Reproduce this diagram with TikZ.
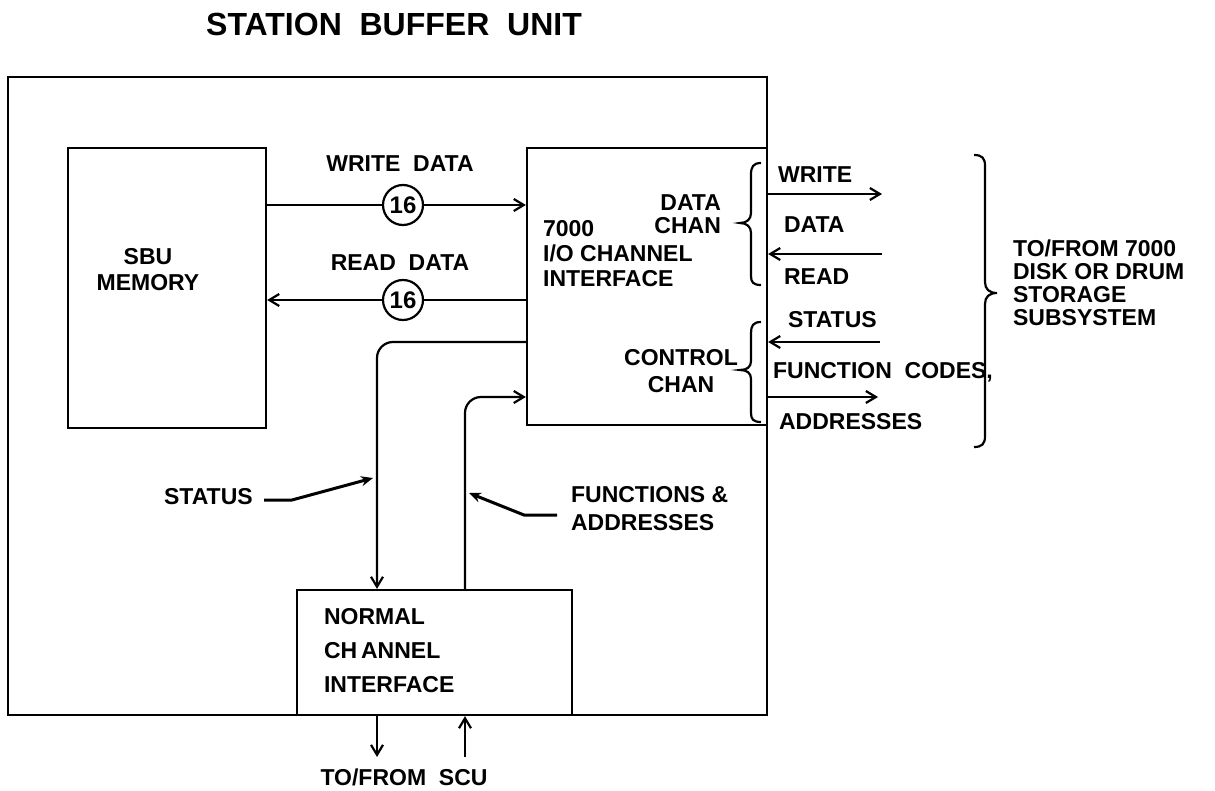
\documentclass[tikz,border=0pt]{standalone}
\usepackage{fontspec}
\setmainfont{Liberation Sans}
\usetikzlibrary{arrows.meta}
\begin{document}
\begin{tikzpicture}[x=0.5pt,y=-0.5pt,line width=1.1pt,
  lbl/.style={font=\fontsize{11.5}{13}\selectfont\bfseries,inner sep=0pt},
  blk/.style={draw,line width=1.1pt,inner sep=0pt},
  arr/.style={-{Straight Barb[length=5pt,width=6pt]}},
  num/.style={draw,circle,minimum size=20pt,inner sep=0pt,font=\fontsize{12}{12}\selectfont\bfseries},
  ptr/.style={-{Stealth[length=6pt,width=5pt]},line width=1.5pt}]
\useasboundingbox (0,0) rectangle (1215,791);
% title
\node[inner sep=0pt,font=\fontsize{16}{18}\selectfont\bfseries] (title) at (394,24) {STATION\ \ BUFFER\ \ UNIT};
% boxes
\node[blk,minimum width=379.5pt,minimum height=319pt] (sbu0) at (387.5,396) {};
\node[blk,minimum width=99pt,minimum height=140pt] (sbu) at (167,288) {};
\node[lbl,align=center,font=\fontsize{11.5}{13}\selectfont\bfseries] (sbut) at (148,270) {SBU\\MEMORY};
\node[blk,minimum width=120pt,minimum height=138.5pt] (chan) at (647,286.5) {};
\node[lbl,align=left,anchor=west,font=\fontsize{11.5}{12.5}\selectfont\bfseries] (chant) at (542,254) {7000\\I/O CHANNEL\\INTERFACE};
\node[blk,minimum width=137.5pt,minimum height=62.5pt] (nci) at (434.5,652.5) {};
\node[lbl,align=left,anchor=west,font=\fontsize{11.5}{17}\selectfont\bfseries] (ncit) at (323,651) {NORMAL\\CH\,ANNEL\\INTERFACE};
% write/read data
\node[num] (c1) at (403,205) {16};
\node[num] (c2) at (403,300) {16};
\node[lbl] (wd) at (400,164) {WRITE\ \ DATA};
\node[lbl] (rd) at (400,263) {READ\ \ DATA};
\draw (sbu.east |- c1) -- (c1.west);
\draw[arr] (c1.east) -- (chan.west |- c1);
\draw (chan.west |- c2) -- (c2.east);
\draw[arr] (c2.west) -- (sbu.east |- c2);
% status / functions paths
\coordinate (stA) at (527,342);
\coordinate (stB) at (377,342);
\coordinate (fnA) at (465,397);
\draw[arr,rounded corners=8pt] (stA) -- (stB) -- (stB |- nci.north);
\draw[arr,rounded corners=8pt] (fnA |- nci.north) -- (fnA) -- (chan.west |- fnA);
% pointer labels
\node[lbl,anchor=west] (stl) at (163,497) {STATUS};
\coordinate (stp) at (373,478);
\draw[ptr] (264,500) -- (292,500) -- (stp);
\node[lbl,anchor=west,align=left,font=\fontsize{11.5}{14}\selectfont\bfseries] (fnl) at (570,509) {FUNCTIONS \&\\ADDRESSES};
\coordinate (fnp) at (469,493);
\draw[ptr] (557,515) -- (524,515) -- (fnp);
% to/from SCU
\coordinate (scuL) at (377,757);
\coordinate (scuR) at (465,757);
\draw[arr] (scuL |- nci.south) -- (scuL);
\draw[arr] (scuR) -- (scuR |- nci.south);
\node[lbl] (scu) at (404,777) {TO/FROM\ \ SCU};
% channel braces and labels
\node[lbl,align=right,anchor=east,font=\fontsize{11.5}{11.5}\selectfont\bfseries] (dch) at (722,214) {DATA\\CHAN};
\node[lbl,align=center,font=\fontsize{11.5}{13.5}\selectfont\bfseries] (cch) at (681,371) {CONTROL\\CHAN};
\draw (761,163) .. controls (753,163) and (751,167) .. (751,175) -- (751,213) .. controls (751,219) and (747,223) .. (740,223) .. controls (747,223) and (751,227) .. (751,233) -- (751,276) .. controls (751,282) and (753,285) .. (761,285);
\draw (761,322) .. controls (753,322) and (751,326) .. (751,333) -- (751,361) .. controls (751,367) and (747,370) .. (740,370) .. controls (747,370) and (751,373) .. (751,379) -- (751,413) .. controls (751,419) and (753,422) .. (761,422);
% right-side arrows
\coordinate (wE) at (882,194);
\coordinate (rE) at (882,254);
\coordinate (sE) at (880,342);
\coordinate (fE) at (878,397);
\draw[arr] (chan.east |- wE) -- (wE);
\draw[arr] (rE) -- (chan.east |- rE);
\draw[arr] (sE) -- (chan.east |- sE);
\draw[arr] (chan.east |- fE) -- (fE);
\node[lbl,anchor=west] (lw) at (777,175) {WRITE};
\node[lbl,anchor=west] (ld) at (783,225) {DATA};
\node[lbl,anchor=west] (lr) at (783,277) {READ};
\node[lbl,anchor=west] (ls) at (787,320) {STATUS};
\node[lbl,anchor=west] (lf) at (772,372) {FUNCTION\ \ CODES,};
\node[lbl,anchor=west] (la) at (778,422) {ADDRESSES};
% big brace
\draw (974,155) .. controls (982,155) and (985,158) .. (985,166) -- (985,282) .. controls (985,289) and (989,293) .. (997,293) .. controls (989,293) and (985,297) .. (985,304) -- (985,436) .. controls (985,444) and (982,447) .. (974,447);
\node[lbl,anchor=west,align=left,font=\fontsize{11.5}{11.5}\selectfont\bfseries] (ext) at (1012,283) {TO/FROM\ 7000\\DISK OR\ DRUM\\STORAGE\\SUBSYSTEM};
\end{tikzpicture}
\end{document}
